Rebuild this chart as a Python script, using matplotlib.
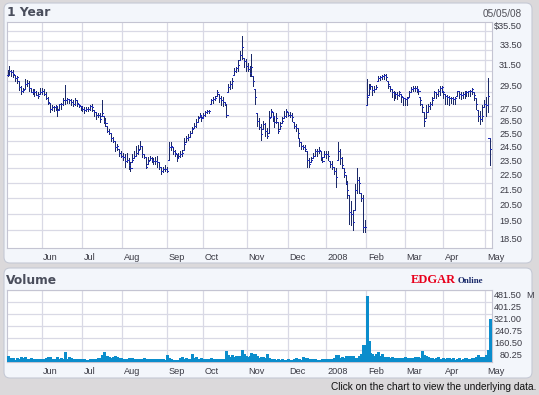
import matplotlib
matplotlib.use('Agg')
import matplotlib.pyplot as plt
import matplotlib.transforms as mtransforms
from matplotlib.patches import FancyBboxPatch
from matplotlib.ticker import NullLocator
import numpy as np

plt.rcParams['font.family'] = ['Liberation Sans', 'DejaVu Sans']

W, H = 539, 395

# trading days per month shown (May 7 2007 .. May 5 2008)
month_days = [18, 21, 21, 23, 19, 23, 21, 20, 21, 20, 20, 22, 3]
month_labels = ['Jun', 'Jul', 'Aug', 'Sep', 'Oct', 'Nov', 'Dec', '2008', 'Feb', 'Mar', 'Apr', 'May']

highs = [
    31.1, 31.5, 31.1, 31.1, 30.6, 30.5, 30.0, 29.6, 29.4, 30.2, 30.1, 30.0, 29.4, 29.3, 29.3, 29.1, 29.0, 29.4,
    29.4, 29.3, 29.0, 28.6, 28.1, 27.9, 27.8, 27.9, 27.8, 28.0, 28.1, 28.5, 29.7, 28.5, 28.4, 28.4, 28.3, 28.5, 28.3, 28.0, 27.8,
    27.8, 27.7, 27.7, 27.7, 27.9, 28.0, 27.5, 27.3, 27.2, 27.2, 28.3, 27.0, 26.8, 26.2, 25.9, 25.6, 25.3, 25.0, 24.8, 24.4, 24.2,
    24.1, 24.0, 24.1, 23.7, 23.4, 24.0, 24.2, 24.6, 24.7, 25.0, 24.6, 24.0, 23.8, 23.8, 23.9, 23.8, 23.7, 23.8, 23.9, 23.4, 23.1, 23.1, 23.2,
    23.1, 24.9, 24.9, 24.5, 24.3, 24.0, 24.1, 24.2, 24.3, 25.2, 25.4, 25.5, 25.8, 26.1, 26.4, 26.7, 27.0, 27.2, 27.0,
    27.2, 27.4, 27.5, 27.5, 28.4, 28.6, 28.7, 29.2, 28.9, 28.7, 28.6, 28.2, 28.0, 29.8, 30.0, 30.3, 31.3, 31.4, 32.0, 32.9, 34.5, 32.2, 32.1,
    31.7, 31.5, 32.6, 30.5, 29.3, 27.2, 26.8, 26.3, 26.6, 26.4, 26.0, 27.4, 27.6, 27.3, 26.9, 27.2, 26.5, 26.5, 26.9, 27.4, 27.6,
    27.3, 27.3, 27.2, 26.5, 26.3, 26.0, 25.2, 24.9, 24.7, 24.7, 24.2, 23.7, 23.8, 24.1, 24.4, 24.4, 24.5, 24.2, 23.8, 24.2,
    24.2, 24.2, 23.5, 23.5, 23.1, 23.0, 24.9, 24.4, 23.8, 23.0, 22.5, 22.1, 21.2, 20.8, 20.2, 21.9, 23.0, 22.4, 21.3, 21.2, 19.6,
    30.2, 29.8, 29.8, 29.6, 29.6, 29.7, 30.5, 30.5, 30.6, 30.7, 30.7, 30.0, 29.6, 29.3, 29.1, 29.0, 29.0, 29.1, 28.9, 28.6,
    28.5, 28.6, 29.1, 29.5, 29.6, 29.6, 29.6, 29.2, 28.6, 28.0, 27.3, 27.9, 28.0, 28.2, 28.6, 29.1, 29.0, 29.3, 29.6, 29.6,
    29.1, 28.9, 28.8, 28.7, 28.6, 28.6, 28.6, 29.1, 29.1, 29.0, 29.0, 29.1, 29.1, 29.1, 29.2, 29.4, 29.0, 28.5, 27.5, 27.4, 27.9, 28.3,
    28.6, 30.3, 25.2,
]
lows = [
    30.5, 30.6, 30.5, 30.4, 30.0, 29.9, 29.2, 28.9, 29.0, 29.3, 29.6, 29.1, 29.0, 28.9, 28.7, 28.8, 28.5, 28.9,
    28.9, 28.8, 28.4, 28.0, 27.3, 27.5, 27.4, 27.5, 27.0, 27.6, 27.6, 27.9, 28.0, 28.1, 28.1, 27.9, 27.8, 27.9, 27.8, 27.7, 27.5,
    27.4, 27.2, 27.4, 27.4, 27.5, 27.4, 27.0, 26.7, 26.9, 26.5, 27.0, 26.4, 26.2, 25.7, 25.5, 25.0, 24.9, 24.2, 24.3, 23.9, 23.8,
    23.6, 23.1, 23.4, 22.9, 22.8, 23.4, 23.7, 23.9, 24.0, 24.4, 23.8, 23.7, 23.0, 23.3, 23.6, 23.4, 23.3, 23.3, 23.1, 22.9, 22.6, 22.7, 22.8,
    22.7, 23.6, 24.3, 24.0, 23.9, 23.5, 23.7, 23.8, 23.9, 24.3, 24.9, 25.1, 25.3, 25.6, 26.0, 26.1, 26.5, 26.9, 26.6,
    26.9, 27.0, 27.2, 27.2, 28.0, 28.1, 28.3, 28.7, 28.2, 27.9, 27.8, 27.9, 26.9, 29.0, 29.3, 29.4, 30.6, 30.9, 31.0, 32.0, 32.1, 31.4, 31.0,
    31.0, 30.5, 30.5, 29.6, 28.0, 26.2, 25.9, 25.1, 25.9, 25.4, 25.2, 25.6, 26.9, 26.6, 26.1, 26.4, 25.6, 25.9, 26.4, 26.8, 26.9,
    27.0, 26.9, 26.6, 26.0, 25.8, 25.3, 24.6, 24.4, 24.4, 24.2, 23.1, 23.1, 23.4, 23.7, 23.9, 23.9, 24.1, 23.6, 23.4, 23.8,
    23.7, 23.6, 23.1, 22.9, 22.6, 21.7, 23.6, 23.3, 23.0, 22.4, 21.9, 21.0, 19.4, 19.3, 19.0, 20.2, 21.3, 21.3, 20.8, 18.9, 18.9,
    27.9, 28.8, 29.3, 28.8, 29.0, 29.3, 30.0, 30.1, 30.2, 30.2, 30.1, 29.4, 29.1, 28.6, 28.3, 28.5, 28.4, 28.7, 28.2, 27.9,
    27.9, 27.9, 28.6, 29.0, 29.1, 29.1, 29.0, 28.9, 27.9, 27.3, 26.2, 26.8, 27.3, 27.6, 27.9, 28.5, 28.5, 28.7, 28.8, 29.0,
    28.5, 28.0, 28.0, 27.9, 28.1, 28.0, 28.0, 28.7, 28.5, 28.4, 28.5, 28.5, 28.7, 28.7, 28.7, 28.9, 28.3, 27.6, 26.6, 26.3, 26.6, 27.7,
    27.0, 27.3, 23.2,
]
closes = [
    30.6, 31.0, 30.9, 30.7, 30.3, 30.4, 29.5, 29.1, 29.2, 29.8, 29.9, 29.4, 29.0, 29.1, 29.0, 28.8, 28.7, 29.0,
    29.1, 28.9, 28.5, 28.2, 27.6, 27.7, 27.7, 27.8, 27.5, 28.0, 28.0, 28.3, 28.3, 28.4, 28.3, 28.2, 28.0, 28.3, 28.1, 27.9, 27.7,
    27.6, 27.5, 27.6, 27.6, 27.8, 27.7, 27.3, 27.1, 27.1, 26.7, 27.2, 26.6, 26.4, 25.8, 25.6, 25.2, 25.0, 24.5, 24.6, 24.1, 23.9,
    23.8, 23.5, 23.6, 23.2, 23.0, 23.6, 23.9, 24.1, 24.3, 24.6, 24.0, 23.8, 23.1, 23.5, 23.7, 23.6, 23.5, 23.5, 23.4, 23.1, 22.8, 22.9, 22.9,
    22.8, 24.5, 24.6, 24.2, 24.1, 23.7, 23.9, 24.0, 24.1, 24.8, 25.2, 25.3, 25.6, 25.9, 26.2, 26.5, 26.8, 27.1, 26.8,
    27.1, 27.3, 27.4, 27.4, 28.3, 28.4, 28.5, 29.0, 28.5, 28.3, 28.2, 28.0, 27.1, 29.5, 29.8, 30.0, 31.0, 31.3, 31.6, 32.5, 33.3, 31.9, 31.5,
    31.2, 30.8, 31.4, 30.0, 28.6, 26.6, 26.1, 25.5, 26.3, 25.8, 25.4, 26.8, 27.4, 27.0, 26.5, 26.8, 25.8, 26.2, 26.6, 27.0, 27.4,
    27.1, 27.1, 26.9, 26.2, 26.0, 25.6, 24.9, 24.6, 24.5, 24.4, 23.6, 23.3, 23.6, 23.9, 24.2, 24.2, 24.3, 23.8, 23.5, 24.0,
    24.0, 23.9, 23.3, 23.1, 22.8, 22.4, 24.2, 23.7, 23.2, 22.7, 22.0, 21.5, 20.1, 20.0, 19.5, 21.5, 22.2, 22.0, 21.0, 19.2, 19.2,
    28.6, 29.3, 29.6, 29.2, 29.3, 29.5, 30.3, 30.4, 30.5, 30.6, 30.4, 29.8, 29.3, 29.0, 28.9, 28.9, 28.8, 29.0, 28.7, 28.5,
    28.4, 28.5, 29.0, 29.3, 29.4, 29.4, 29.3, 29.1, 28.3, 27.7, 26.6, 27.3, 27.8, 28.0, 28.3, 29.0, 28.9, 29.1, 29.4, 29.5,
    29.0, 28.7, 28.6, 28.5, 28.5, 28.4, 28.5, 29.1, 28.9, 28.8, 28.9, 29.0, 29.0, 29.1, 29.1, 29.3, 28.8, 28.0, 27.0, 26.7, 27.0, 28.0,
    27.9, 28.7, 24.4,
]
volumes = [  # millions of shares
    42, 29, 24, 29, 16, 27, 22, 31, 24, 36, 20, 18, 29, 20, 13, 18, 18, 18,
    18, 18, 24, 36, 36, 20, 20, 22, 31, 20, 24, 20, 69, 22, 36, 24, 22, 20, 18, 18, 20,
    16, 22, 13, 16, 18, 22, 20, 18, 27, 24, 49, 65, 24, 38, 33, 29, 31, 38, 33, 24, 24,
    22, 22, 20, 29, 24, 24, 22, 20, 22, 20, 18, 29, 20, 20, 20, 22, 18, 20, 20, 18, 22, 18, 13,
    45, 24, 22, 16, 16, 16, 16, 24, 31, 22, 29, 20, 22, 56, 27, 31, 18, 22, 24,
    20, 18, 20, 20, 29, 18, 20, 20, 22, 20, 22, 20, 74, 45, 31, 45, 33, 40, 38, 42, 82, 56, 38,
    33, 42, 62, 54, 54, 40, 29, 36, 33, 29, 54, 27, 20, 13, 20, 16, 20, 16, 20, 13, 13,
    20, 13, 13, 20, 25, 20, 20, 13, 36, 27, 27, 20, 20, 20, 20, 13, 13, 13, 20, 20,
    20, 20, 20, 22, 25, 47, 47, 29, 36, 27, 42, 36, 40, 40, 40, 29, 29, 40, 54, 114, 114,
    443, 143, 62, 54, 40, 54, 69, 40, 54, 36, 36, 36, 29, 36, 25, 29, 29, 29, 25, 29,
    33, 29, 25, 29, 25, 36, 29, 33, 25, 76, 45, 40, 36, 25, 29, 20, 25, 36, 20, 20,
    29, 20, 25, 29, 20, 25, 16, 20, 25, 16, 20, 25, 29, 20, 20, 29, 25, 33, 47, 36, 33, 36,
    47, 80, 285,
]

price_grid = list(range(19, 36))
price_label_values = [35.5, 33.5, 31.5, 29.5, 27.5, 26.5, 25.5, 24.5, 23.5, 22.5, 21.5, 20.5, 19.5, 18.5]
price_labels = ['$35.50', '33.50', '31.50', '29.50', '27.50', '26.50', '25.50', '24.50',
                '23.50', '22.50', '21.50', '20.50', '19.50', '18.50']
vol_ticks = [80.25, 160.50, 240.75, 321.00, 401.25, 481.50]
vol_labels = ['80.25', '160.50', '240.75', '321.00', '401.25', '481.50']

# ---------------------------------------------------------------
fig = plt.figure(figsize=(W / 100, H / 100), dpi=100, facecolor='#dbd9db')
px = mtransforms.Affine2D().scale(1 / 100.0) + fig.dpi_scale_trans  # pixel coords (origin bottom-left)

def Y(y):
    return H - y

panel_fc = '#f3f6fb'
panel_ec = '#c5c9d5'
for (x0, y0, x1, y1) in [(4, 3, 532, 263), (4, 268, 532, 378)]:
    fig.add_artist(FancyBboxPatch((x0, Y(y1)), x1 - x0, y1 - y0,
                                  boxstyle='round,pad=0,rounding_size=6',
                                  transform=px, fc=panel_fc, ec=panel_ec, lw=0.8,
                                  zorder=-10))

n = len(closes)
idx = np.arange(n)
starts = np.cumsum(month_days)[:-1]  # first trading day of each month shown

grid_c = '#d9d9e5'
x_lo, x_hi = -0.3, 252.3
lab_fs = 6.6
lab_c = '#3a3a44'

# ---------------- price panel ----------------
ax = fig.add_axes([7 / W, 1 - 248 / H, 485 / W, 226 / H])
ax.set_zorder(1)
ax.set_facecolor('white')
ax.set_yscale('log')
ax.set_ylim(18, 36)
ax.set_xlim(x_lo, x_hi)
ax.set_xticks([])
ax.set_yticks([])
ax.yaxis.set_minor_locator(NullLocator())
for s in ax.spines.values():
    s.set_color('#c4c4d2')
    s.set_linewidth(0.8)
for g in price_grid:
    ax.axhline(g, color=grid_c, lw=0.9, zorder=0)
for b in starts:
    ax.axvline(b - 0.2, color=grid_c, lw=0.9, zorder=0)

h = np.array(highs)
l = np.array(lows)
c = np.array(closes)
o = np.clip(np.concatenate([[c[0]], c[:-1]]), l, h)
ax.vlines(idx, l, h, colors='#1c2a68', lw=0.72, antialiased=False, zorder=3)
ax.hlines(c, idx, idx + 0.55, colors='#1f2cb8', lw=0.72, antialiased=False, zorder=3)
ax.hlines(o, idx - 0.55, idx, colors='#1f2cb8', lw=0.72, antialiased=False, zorder=3)

tp = mtransforms.blended_transform_factory(px, ax.transData)
for v, s in zip(price_label_values, price_labels):
    ax.text(522, v, s, transform=tp, ha='right', va='center', fontsize=lab_fs, color=lab_c, clip_on=False)

tx = mtransforms.blended_transform_factory(ax.transData, px)
for b, s in zip(starts, month_labels):
    ax.text(b + 0.6, Y(257), s, transform=tx, ha='left', va='center', fontsize=lab_fs, color=lab_c, clip_on=False)

fig.text(7, Y(12), '1 Year', transform=px, ha='left', va='center', fontsize=8.8,
         fontweight='bold', color='#4a4e5c', family='DejaVu Sans')
fig.text(522, Y(14), '05/05/08', transform=px, ha='right', va='center', fontsize=7.2, color='#505058')

# ---------------- volume panel ----------------
av = fig.add_axes([7 / W, 1 - 362 / H, 485 / W, 72 / H])
av.set_zorder(1)
av.set_facecolor('white')
av.set_ylim(0, 481.5)
av.set_xlim(x_lo, x_hi)
av.set_xticks([])
av.set_yticks([])
for s in av.spines.values():
    s.set_color('#c4c4d2')
    s.set_linewidth(0.8)
for g in vol_ticks:
    av.axhline(g, color=grid_c, lw=0.9, zorder=0)
for b in starts:
    av.axvline(b - 0.2, color=grid_c, lw=0.9, zorder=0)
av.vlines(idx, 0, volumes, colors='#0b8dcc', lw=0.75, antialiased=False, zorder=3)

tv = mtransforms.offset_copy(mtransforms.blended_transform_factory(px, av.transData), fig=fig, y=-5, units='dots')
for v, s in zip(vol_ticks, vol_labels):
    av.text(522, v, s, transform=tv, ha='right', va='center', fontsize=lab_fs, color=lab_c, clip_on=False)
av.text(526, vol_ticks[-1], 'M', transform=tv, ha='left', va='center', fontsize=lab_fs, color=lab_c, clip_on=False)

txv = mtransforms.blended_transform_factory(av.transData, px)
for b, s in zip(starts, month_labels):
    av.text(b + 0.6, Y(371), s, transform=txv, ha='left', va='center', fontsize=lab_fs, color=lab_c, clip_on=False)

fig.text(6, Y(280), 'Volume', transform=px, ha='left', va='center', fontsize=8.8,
         fontweight='bold', color='#4a4e5c', family='DejaVu Sans')
fig.text(411, Y(283), 'EDGAR', transform=px, ha='left', va='baseline', fontsize=9.0,
         fontweight='bold', color='#e8001c', family='Liberation Serif')
fig.text(458, Y(283), 'Online', transform=px, ha='left', va='baseline', fontsize=6.4,
         fontweight='bold', color='#1a2a6a', family='Liberation Serif')

fig.text(536, Y(387), 'Click on the chart to view the underlying data.', transform=px,
         ha='right', va='center', fontsize=7.3, color='#111111')

fig.savefig('out.png', dpi=100, facecolor=fig.get_facecolor())
